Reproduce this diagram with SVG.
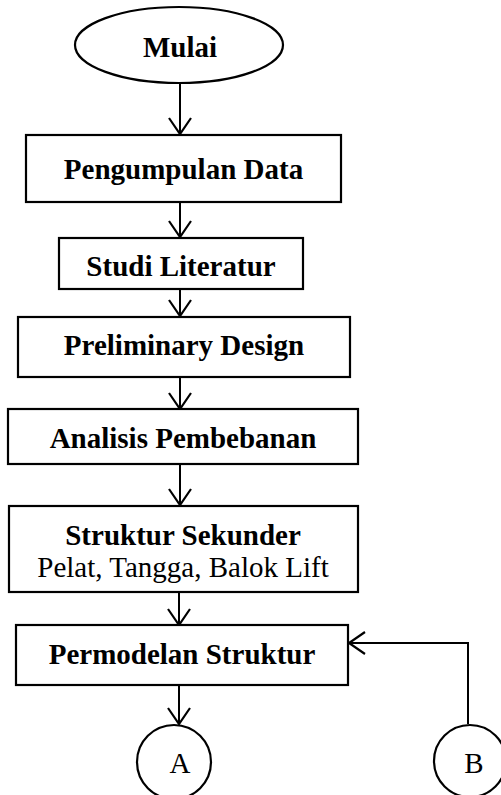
<svg xmlns="http://www.w3.org/2000/svg" width="501" height="795" viewBox="0 0 501 795">
<style>
.box{fill:#fff;stroke:#000;stroke-width:2.2}
.b{font-family:"Liberation Serif","Times New Roman",serif;font-size:29px;font-weight:bold;text-anchor:middle;fill:#000}
.r{font-family:"Liberation Serif","Times New Roman",serif;font-size:29px;text-anchor:middle;fill:#000}
.c{fill:none;stroke:#000;stroke-width:2}
</style>
<defs>
<marker id="arr" markerUnits="userSpaceOnUse" markerWidth="24" markerHeight="26" viewBox="-2 -13 22 26" refX="17" refY="0" orient="auto">
<path d="M1,-11 L17,0 L1,11" fill="none" stroke="#000" stroke-width="2.2"/>
</marker>
</defs>
<rect width="501" height="795" fill="#fff"/>
<g id="connectors">
<line class="c" x1="180" y1="83" x2="180" y2="134" marker-end="url(#arr)"/>
<line class="c" x1="180" y1="203" x2="180" y2="237" marker-end="url(#arr)"/>
<line class="c" x1="180" y1="290" x2="180" y2="316" marker-end="url(#arr)"/>
<line class="c" x1="180" y1="378" x2="180" y2="409" marker-end="url(#arr)"/>
<line class="c" x1="180" y1="465" x2="180" y2="505" marker-end="url(#arr)"/>
<line class="c" x1="179" y1="593" x2="179" y2="625" marker-end="url(#arr)"/>
<line class="c" x1="179" y1="686" x2="179" y2="724" marker-end="url(#arr)"/>
<polyline class="c" points="468,724 468,643 349,643" marker-end="url(#arr)"/>
</g>
<g id="mulai">
<ellipse cx="179" cy="45" rx="104" ry="38" class="box"/>
<text x="180" y="57" class="b">Mulai</text>
</g>
<g id="pengumpulan">
<rect x="26" y="135" width="315" height="67" class="box"/>
<text x="183.5" y="179" class="b">Pengumpulan Data</text>
</g>
<g id="studi">
<rect x="59" y="238" width="244" height="51" class="box"/>
<text x="181" y="276" class="b">Studi Literatur</text>
</g>
<g id="preliminary">
<rect x="18" y="317" width="332" height="60" class="box"/>
<text x="184" y="355" class="b">Preliminary Design</text>
</g>
<g id="analisis">
<rect x="8" y="409" width="350" height="55" class="box"/>
<text x="183" y="448" class="b">Analisis Pembebanan</text>
</g>
<g id="struktur">
<rect x="9" y="506" width="349" height="86" class="box"/>
<text x="183" y="545" class="b">Struktur Sekunder</text>
<text x="183" y="577" class="r">Pelat, Tangga, Balok Lift</text>
</g>
<g id="permodelan">
<rect x="16" y="625" width="332" height="60" class="box"/>
<text x="182" y="664" class="b">Permodelan Struktur</text>
</g>
<g id="A">
<circle cx="174" cy="762" r="37" class="box"/>
<text x="180" y="773" class="r">A</text>
</g>
<g id="B">
<circle cx="470" cy="761" r="36" class="box"/>
<text x="474" y="773" class="r">B</text>
</g>
</svg>
